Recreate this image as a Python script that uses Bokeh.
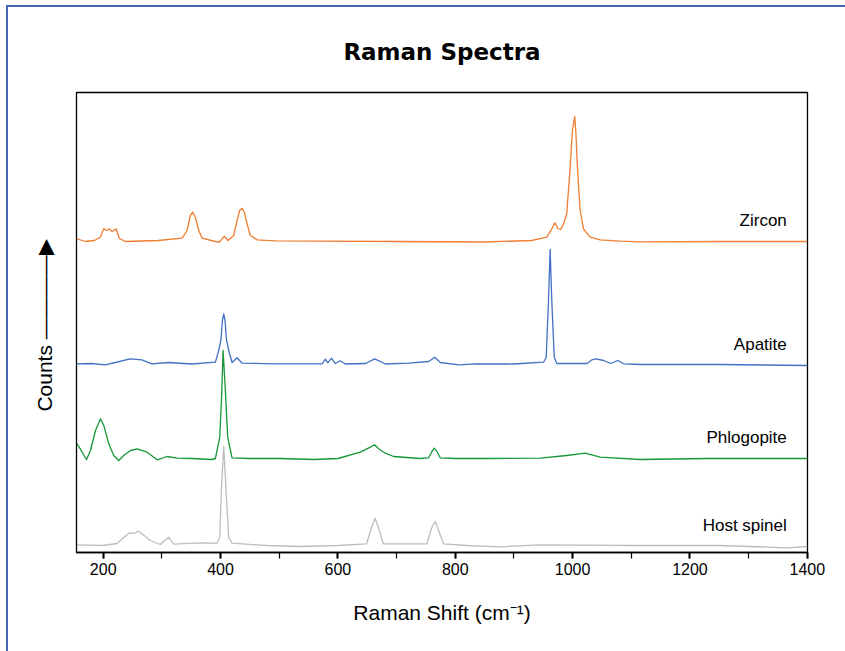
from bokeh.plotting import figure
from bokeh.layouts import column
from bokeh.models import Label, SingleIntervalTicker, FixedTicker, Range1d
from bokeh.embed import file_html
from bokeh.resources import INLINE

# ---- data (Raman shift in cm^-1, counts in arbitrary offset units) ----
zircon_x = [155, 170, 185, 195, 201, 206.5, 210.5, 215, 222, 227.5, 238, 294, 334.5, 343,
            348.6, 352.6, 357.2, 362.9, 368.6, 391, 398, 406.5, 413, 422.4, 428.2, 432.6,
            436.7, 440.6, 445.2, 450.8, 462.2, 493, 570, 700, 850, 930, 956, 964.6, 969.7,
            974.8, 979.9, 985.6, 990, 995.8, 999.7, 1003.5, 1005.4, 1008.2, 1012.8, 1018.5,
            1029.8, 1046.9, 1081, 1115, 1250, 1400]
zircon_y = [313.7, 311, 312, 315.3, 323.7, 322, 323.7, 321, 323.7, 314, 311, 312, 314.3, 322,
            337, 340.3, 335.3, 322, 314.3, 311, 310.5, 316.3, 312, 317, 332, 342,
            344.3, 340.3, 328.7, 317, 312.7, 311.7, 311.3, 311, 310.5, 312, 315.3, 323.7, 329.7,
            324, 323, 330.3, 338.7, 385.3, 422, 436, 422, 385.3, 342, 323.7,
            315.3, 312.7, 311.3, 310.7, 311, 311]

apatite_x = [153, 180, 203.6, 220.7, 246, 266, 283, 311.5, 351, 391.2, 396.9, 400.9, 403.1,
             405.4, 407.7, 409.9, 413.9, 419.6, 428.2, 436.6, 493, 573, 578.6, 583, 589,
             595.6, 604, 612.7, 647, 662.7, 681, 720.6, 754.7, 765, 774.6, 806, 834, 900,
             950.5, 955, 958.9, 961.7, 964.5, 968.7, 973, 1024.6, 1033, 1040, 1053, 1065,
             1077, 1087, 1115, 1250, 1400]
apatite_y = [188.7, 189, 187.7, 190, 193.7, 192.7, 188.7, 190, 188.5, 190.3, 202, 213.7, 232,
             238.7, 232, 213.7, 202, 190, 194.7, 189.3, 188.7, 188.7, 193.3, 189.7, 194.3,
             189, 191.7, 188.5, 189, 193.7, 188.5, 189.3, 191, 195.3, 190, 187.7, 188.7, 188.5,
             190.3, 195.3, 252, 303, 252, 195.3, 189, 189, 192.7, 193.7, 192, 189,
             192, 188.7, 188, 188, 187]

phlogopite_x = [154.5, 164.2, 171.5, 178.3, 186.9, 195.4, 201, 209.5, 218, 226.5, 235, 246.5,
                257.9, 274.9, 291.9, 308.9, 326, 350, 385, 391.2, 398.6, 402, 404.3, 408.2,
                412.2, 419.6, 450, 500, 560, 600, 638.2, 655.2, 662.5, 669.3, 680.7, 694.9,
                740, 754.5, 760.2, 764.2, 768.7, 774.4, 800, 850, 945, 990, 1021.6, 1047,
                1115, 1230, 1400]
phlogopite_y = [109.7, 100.3, 92.7, 102, 122, 133.7, 127, 108.7, 97, 92, 97, 102,
                103.7, 100.3, 92.7, 96, 94.3, 94, 93, 94, 115.3, 159, 202, 162,
                115.3, 94.7, 94, 94, 93, 94, 100.3, 105.3, 107.7, 103.7, 99.3, 96,
                94, 94.7, 101, 104.3, 101, 94.7, 94, 94, 94.3, 97, 99.3, 95.3,
                93, 94, 94]

spinel_x = [155.4, 200, 223.6, 235, 243.4, 252, 260.4, 270, 280, 297.4, 311.5, 320, 365.5,
            394.1, 398.6, 401.4, 405.4, 409.4, 413.9, 419.6, 479, 536, 600, 648.9, 657.5,
            663.2, 668.8, 677.3, 706, 751.7, 760.2, 765.9, 771.6, 780.1, 820, 877, 945, 1100,
            1250, 1365, 1400]
spinel_y = [7.7, 7, 9, 15, 19.3, 19, 21.3, 17, 12, 8, 15.3, 8.3, 9.7,
            9.3, 15.3, 62, 106, 62, 15.3, 9.3, 7, 6, 7, 8.7, 25.3,
            34.3, 25.3, 8.7, 8.7, 8.7, 25.3, 31, 22, 8.7, 7, 5.7, 7.7, 7,
            7, 4.7, 6]

series_names = ["Zircon", "Apatite", "Phlogopite", "Host spinel"]
series_colors = ["#F07D32", "#4470C4", "#16973A", "#BDBDBD"]
series_x = [zircon_x, apatite_x, phlogopite_x, spinel_x]
series_y = [zircon_y, apatite_y, phlogopite_y, spinel_y]

x_start, x_end = 154.5, 1400.3
y_start, y_end = 0, 460

p = figure(width=837, height=644, output_backend="svg", toolbar_location=None,
           x_range=Range1d(x_start, x_end), y_range=Range1d(y_start, y_end),
           min_border_left=68, min_border_right=38, min_border_top=85, min_border_bottom=99)
p.background_fill_color = "white"
p.border_fill_color = "white"
p.outline_line_color = "black"
p.outline_line_width = 1.3
p.xgrid.visible = False
p.ygrid.visible = False

# title
p.title.text = "Raman Spectra"
p.title.align = "center"
p.title.text_font = "DejaVu Sans"
p.title.text_font_style = "bold"
p.title.text_font_size = "23px"
p.title.text_color = "black"
p.title.standoff = 56

# x axis
ax = p.xaxis[0]
ax.ticker = SingleIntervalTicker(interval=200, num_minor_ticks=2)
ax.axis_line_color = "black"
ax.axis_line_width = 1.6
ax.major_tick_line_width = 2
ax.minor_tick_line_width = 1.2
ax.major_tick_in = 0
ax.major_tick_out = 6
ax.minor_tick_in = 0
ax.minor_tick_out = 6
ax.major_tick_line_color = "black"
ax.minor_tick_line_color = "black"
ax.major_label_text_font = "Liberation Sans"
ax.major_label_text_font_size = "16px"
ax.major_label_text_color = "black"
ax.major_label_standoff = 4
ax.axis_label = "Raman Shift (cm\u207b\u00b9)"
ax.axis_label_text_font = "Liberation Sans"
ax.axis_label_text_font_size = "21px"
ax.axis_label_text_font_style = "normal"
ax.axis_label_text_color = "black"
ax.axis_label_standoff = 23

# y axis: no ticks, only the "Counts" label with an upward arrow
ay = p.yaxis[0]
ay.ticker = FixedTicker(ticks=[])
ay.axis_line_color = None
ay.major_tick_line_color = None
ay.minor_tick_line_color = None
ay.major_tick_in = 0
ay.major_tick_out = 0
ay.minor_tick_in = 0
ay.minor_tick_out = 0
ay.major_label_standoff = 0
ay.axis_label = "Counts  \u2014\u2014\u2014\u2014\u25b6"
ay.axis_label_text_font = "Liberation Sans"
ay.axis_label_text_font_size = "21px"
ay.axis_label_text_font_style = "normal"
ay.axis_label_text_color = "black"
ay.axis_label_standoff = 21

for name, color, xs, ys in zip(series_names, series_colors, series_x, series_y):
    p.line(xs, ys, line_color=color, line_width=1.3, line_join="round")
    p.add_layout(Label(x=1365, y=ys[-1] + 21, text=name, text_align="right",
                       text_baseline="middle", text_font="Liberation Sans",
                       text_font_size="17px", text_color="black"))

page = column(p, styles={"margin-left": "6px", "margin-top": "5px",
                         "border-left": "2px solid #4668B4",
                         "border-top": "2px solid #4668B4"})

open("out.html", "w").write(file_html(page, INLINE))
